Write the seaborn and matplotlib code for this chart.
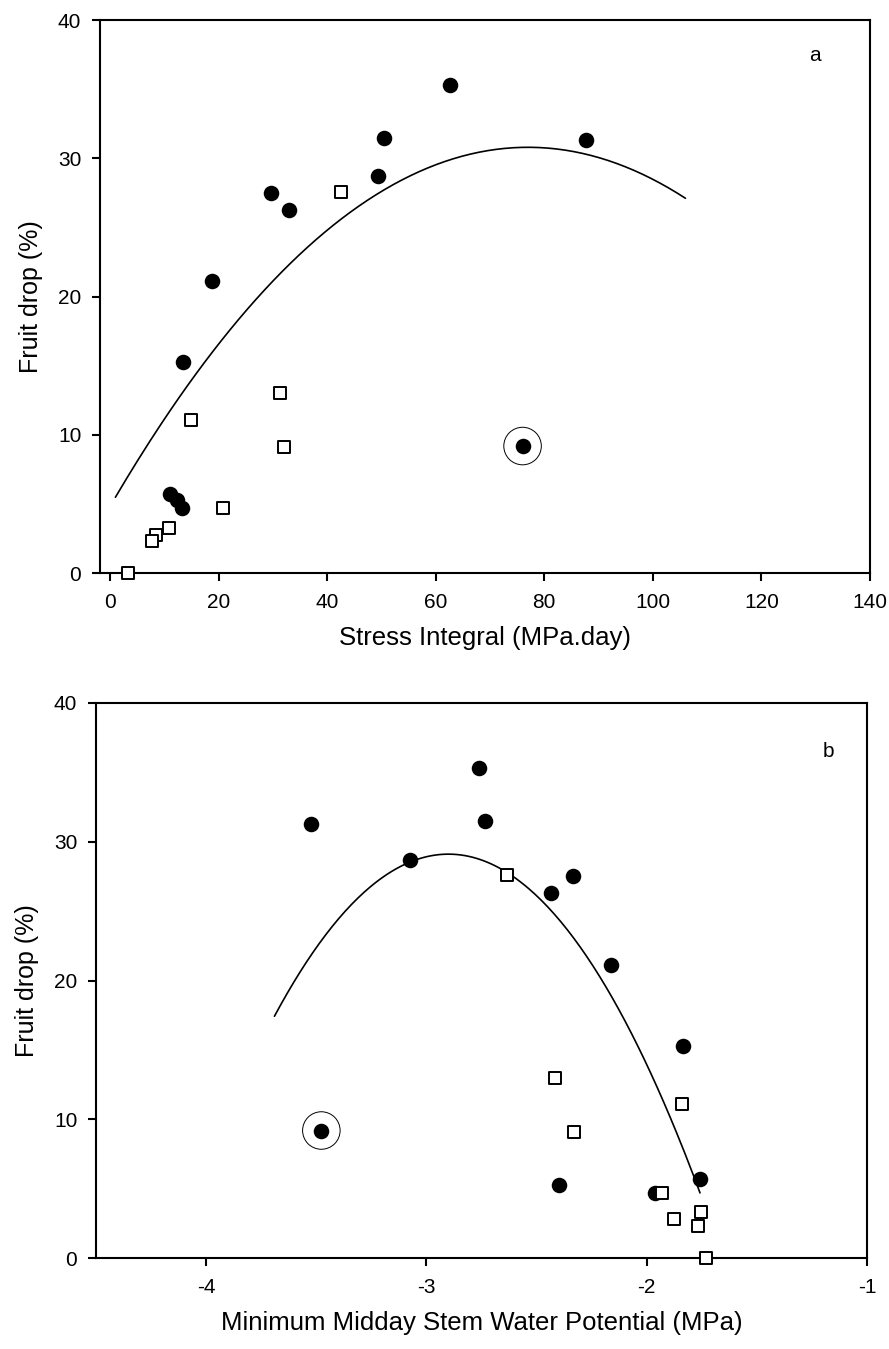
import numpy as np
import pandas as pd
import matplotlib
matplotlib.use("Agg")
import matplotlib.pyplot as plt
import seaborn as sns

# ---------------- data ----------------
# filled circles (series 1)
drop_filled = [35.3, 31.5, 31.3, 28.7, 27.5, 26.3, 21.1, 15.3, 5.7, 5.3, 4.7]
si_filled = [62.6, 50.5, 87.7, 49.4, 29.6, 32.9, 18.7, 13.4, 11.05, 12.4, 13.2]
swp_filled = [-2.76, -2.736, -3.523, -3.073, -2.336, -2.435, -2.162, -1.835, -1.759, -2.397, -1.964]

# open squares (series 2)
drop_open = [27.6, 13.0, 11.1, 9.1, 4.7, 3.3, 2.8, 2.3, 0.0]
si_open = [42.5, 31.3, 14.86, 32.1, 20.8, 10.9, 8.47, 7.68, 3.26]
swp_open = [-2.632, -2.415, -1.838, -2.330, -1.930, -1.755, -1.874, -1.765, -1.732]

# circled outlier
drop_outlier = [9.2]
si_outlier = [76.0]
swp_outlier = [-3.477]

# quadratic fit coefficients (c0 + c1 x + c2 x^2) and fitted range
fit_a = [4.83, 0.6745, -0.00438]
fit_a_range = [1.0, 106.0]
fit_b = [-128.17, -108.46, -18.7]
fit_b_range = [-3.69, -1.758]

xticks_a = [0, 20, 40, 60, 80, 100, 120, 140]
xticks_b = [-4, -3, -2, -1]
yticks = [0, 10, 20, 30, 40]

# ---------------- style ----------------
sns.set_theme(style="ticks")
plt.rcParams['font.family'] = ['Liberation Sans', 'DejaVu Sans']
plt.rcParams['axes.linewidth'] = 1.5
plt.rcParams['axes.unicode_minus'] = False
plt.rcParams['axes.labelcolor'] = 'black'
plt.rcParams['text.color'] = 'black'

fig = plt.figure(figsize=(8.89, 13.49), dpi=100)
ax_a = fig.add_axes([100/889, 1-573.3/1349, 770/889, 553.3/1349])
ax_b = fig.add_axes([96/889, 1-1258.3/1349, 771/889, 555.6/1349])


def draw(ax, xf, xo, xout, fit, frange, xlim, xticks, xlabel, letter, letter_xy,
         ylabelpad):
    df_f = pd.DataFrame({"x": xf, "y": drop_filled})
    df_o = pd.DataFrame({"x": xo, "y": drop_open})
    df_out = pd.DataFrame({"x": xout, "y": drop_outlier})
    xs = np.linspace(frange[0], frange[1], 200)
    ys = fit[0] + fit[1] * xs + fit[2] * xs ** 2
    df_fit = pd.DataFrame({"x": xs, "y": ys})
    sns.lineplot(data=df_fit, x="x", y="y", ax=ax, color="black", lw=1.2, zorder=2)
    sns.scatterplot(data=df_out, x="x", y="y", ax=ax, s=730, marker="o",
                    facecolor="none", edgecolor="black", linewidth=0.7, zorder=3, clip_on=False)
    sns.scatterplot(data=df_f, x="x", y="y", ax=ax, s=125, marker="o",
                    color="black", edgecolor="black", linewidth=0, zorder=4, clip_on=False)
    sns.scatterplot(data=df_out, x="x", y="y", ax=ax, s=125, marker="o",
                    color="black", edgecolor="black", linewidth=0, zorder=4, clip_on=False)
    sns.scatterplot(data=df_o, x="x", y="y", ax=ax, s=75, marker="s",
                    facecolor="white", edgecolor="black", linewidth=1.4, zorder=5, clip_on=False)
    ax.set_xlim(*xlim)
    ax.set_ylim(0, 40)
    ax.set_xticks(xticks)
    ax.set_yticks(yticks)
    ax.tick_params(axis="both", direction="out", length=6, width=1.5,
                   labelsize=15, colors="black")
    ax.tick_params(axis="x", pad=8)
    ax.tick_params(axis="y", pad=7.5)
    ax.set_xlabel(xlabel, fontsize=18.5, labelpad=10.5, color="black")
    ax.set_ylabel("Fruit drop (%)", fontsize=18, labelpad=ylabelpad, color="black")
    for sp in ax.spines.values():
        sp.set_visible(True)
        sp.set_linewidth(1.5)
        sp.set_color("black")
    ax.text(letter_xy[0], letter_xy[1], letter, fontsize=15, ha="center", va="center")


draw(ax_a, si_filled, si_open, si_outlier, fit_a, fit_a_range, (-1.84, 140), xticks_a,
     "Stress Integral (MPa.day)", "a", (129.8, 37.4), 10.5)
draw(ax_b, swp_filled, swp_open, swp_outlier, fit_b, fit_b_range, (-4.5, -1), xticks_b,
     "Minimum Midday Stem Water Potential (MPa)", "b", (-1.174, 36.5), 11)

fig.savefig("out.png", dpi=100)
